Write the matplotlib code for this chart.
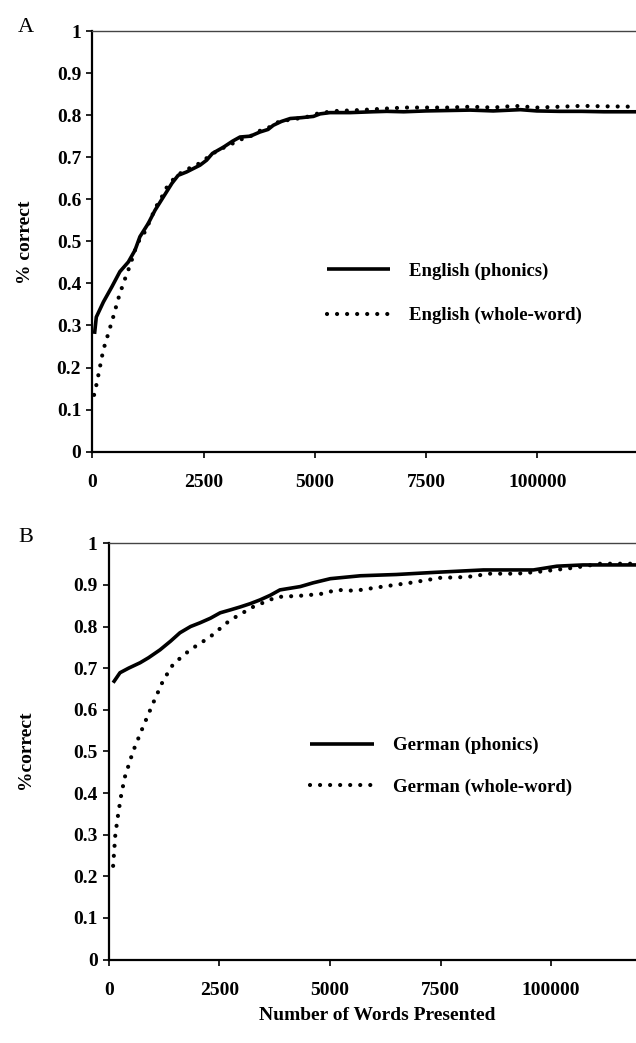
import matplotlib.pyplot as plt

plt.rcParams['font.family'] = ['Liberation Serif', 'DejaVu Serif']

# panel A: English
eng_ph_x = [50, 90, 250, 440, 620, 810, 960, 1070, 1260, 1410, 1600, 1790, 1930, 2120, 2420, 2570,
            2700, 2950, 3150, 3320, 3550, 3770, 3950, 4070, 4250, 4450, 4700, 4970, 5120, 5340,
            5800, 6300, 6620, 7000, 7500, 8000, 8490, 9010, 9620, 9990, 10500, 11000, 11500, 12220]
eng_ph_y = [0.28, 0.32, 0.356, 0.392, 0.428, 0.451, 0.479, 0.511, 0.543, 0.574, 0.606, 0.638, 0.657,
            0.665, 0.681, 0.693, 0.709, 0.724, 0.738, 0.748, 0.750, 0.760, 0.766, 0.776, 0.785,
            0.792, 0.794, 0.797, 0.803, 0.806, 0.806, 0.808, 0.809, 0.808, 0.810, 0.811, 0.812,
            0.810, 0.813, 0.810, 0.809, 0.809, 0.808, 0.808]

eng_ww_x = [40, 99, 173, 247, 360, 472, 585, 697, 848, 960, 1057, 1185, 1300, 1420, 1560, 1650,
            1800, 1950, 2150, 2400, 2600, 2800, 3000, 3200, 3400, 3600, 3800, 4000, 4200, 4500,
            4800, 5100, 5500, 6000, 6500, 7000, 7500, 8000, 8500, 9000, 9500, 10000, 10500,
            11000, 11500, 12220]
eng_ww_y = [0.135, 0.162, 0.202, 0.242, 0.281, 0.321, 0.364, 0.40, 0.443, 0.479, 0.503, 0.523,
            0.55, 0.58, 0.605, 0.625, 0.645, 0.66, 0.672, 0.685, 0.70, 0.715, 0.725, 0.735,
            0.745, 0.752, 0.765, 0.772, 0.785, 0.790, 0.795, 0.805, 0.810, 0.812, 0.815, 0.818,
            0.818, 0.818, 0.820, 0.818, 0.822, 0.818, 0.820, 0.822, 0.821, 0.820]

# panel B: German
ger_ph_x = [100, 255, 450, 710, 900, 1160, 1400, 1610, 1850, 2065, 2300, 2520, 2750, 2970, 3200,
            3420, 3650, 3870, 4100, 4330, 4620, 5010, 5690, 6500, 7340, 8470, 9600, 10130,
            10720, 11919]
ger_ph_y = [0.665, 0.689, 0.70, 0.713, 0.725, 0.744, 0.765, 0.785, 0.80, 0.809, 0.82, 0.833,
            0.84, 0.847, 0.855, 0.864, 0.875, 0.888, 0.892, 0.896, 0.905, 0.915, 0.922, 0.925,
            0.930, 0.936, 0.936, 0.945, 0.948, 0.948]

ger_ww_x = [100, 150, 215, 290, 370, 550, 780, 1000, 1230, 1460, 1840, 2290, 2740, 3260, 3800,
            4330, 4780, 5160, 5570, 6200, 6810, 7490, 8100, 8620, 9230, 9750, 10500, 11110, 11919]
ger_ww_y = [0.225, 0.30, 0.35, 0.40, 0.44, 0.50, 0.56, 0.615, 0.67, 0.71, 0.744, 0.775, 0.815,
            0.847, 0.871, 0.874, 0.878, 0.888, 0.886, 0.896, 0.905, 0.917, 0.919, 0.927, 0.927,
            0.932, 0.941, 0.951, 0.951]

xticks = [0, 2500, 5000, 7500, 10000]
xtick_labels = ['0', '2500', '5000', '7500', '100000']
yticks = [0, 0.1, 0.2, 0.3, 0.4, 0.5, 0.6, 0.7, 0.8, 0.9, 1]
ytick_labels = ['0', '0.1', '0.2', '0.3', '0.4', '0.5', '0.6', '0.7', '0.8', '0.9', '1']

W, H = 636, 1043
fig = plt.figure(figsize=(W / 100, H / 100), dpi=100)

dot = (0, (0.01, 2.4))


def panel(rect, xmax, ph_x, ph_y, ww_x, ww_y, labels, leg_box, spacing):
    ax = fig.add_axes(rect)
    ax.plot(ph_x, ph_y, color='black', lw=2.6, label=labels[0], solid_capstyle='butt')
    ax.plot(ww_x, ww_y, color='black', lw=3.0, linestyle=dot, dash_capstyle='round',
            label=labels[1])
    ax.set_xlim(0, xmax)
    ax.set_ylim(0, 1)
    ax.set_xticks(xticks)
    ax.set_xticklabels(xtick_labels, fontweight='bold', fontsize=14)
    ax.set_yticks(yticks)
    ax.set_yticklabels(ytick_labels, fontweight='bold', fontsize=14)
    ax.tick_params(direction='out', length=4, width=1.2, pad=4)
    ax.tick_params(axis='x', pad=12)
    ax.spines['right'].set_visible(False)
    ax.spines['top'].set_color('#444444')
    ax.spines['top'].set_linewidth(1.0)
    ax.spines['left'].set_linewidth(1.6)
    ax.spines['bottom'].set_linewidth(1.6)
    ax.legend(loc='upper left', bbox_to_anchor=leg_box, frameon=False,
              prop={'weight': 'bold', 'size': 13.5}, handlelength=3.4,
              handletextpad=1.0, labelspacing=spacing)
    return ax


axA = panel([92.3 / W, 1 - 451.7 / H, 1 - 92.3 / W, 420.7 / H], 12220,
            eng_ph_x, eng_ph_y, eng_ww_x, eng_ww_y,
            ['English (phonics)', 'English (whole-word)'], (0.40, 0.49), 1.45)
axB = panel([108.7 / W, 1 - 959.5 / H, 1 - 108.7 / W, 416.2 / H], 11919,
            ger_ph_x, ger_ph_y, ger_ww_x, ger_ww_y,
            ['German (phonics)', 'German (whole-word)'], (0.35, 0.575), 1.3)

fig.text(18 / W, 1 - 27 / H, 'A', fontsize=16, ha='left', va='center')
fig.text(18 / W, 1 - 537 / H, 'B', fontsize=16, ha='left', va='center')
fig.text(25 / W, 1 - 242 / H, '% correct', fontsize=14, fontweight='bold',
         rotation=90, ha='center', va='center')
fig.text(25 / W, 1 - 750 / H, '%correct', fontsize=14, fontweight='bold',
         rotation=90, ha='center', va='center')
fig.text(377 / W, 1 - 1016 / H, 'Number of Words Presented', fontsize=14,
         fontweight='bold', ha='center', va='center')

fig.savefig('out.png', dpi=100)
